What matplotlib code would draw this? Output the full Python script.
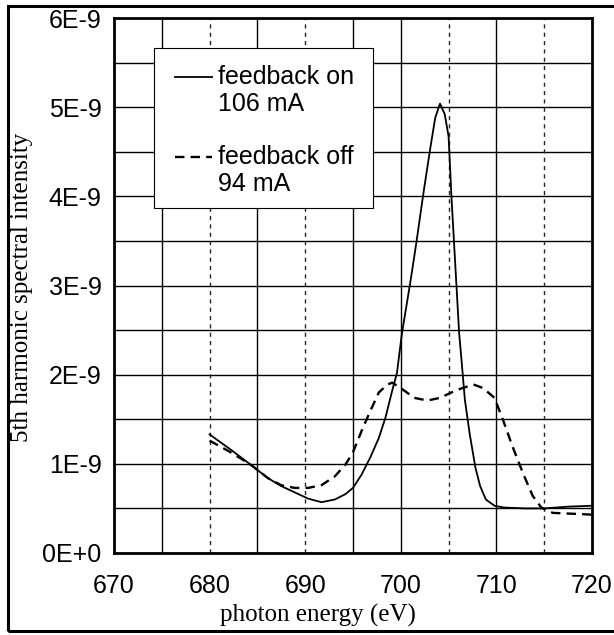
import matplotlib
matplotlib.use("Agg")
import matplotlib.pyplot as plt
from matplotlib.patches import Rectangle
from matplotlib.lines import Line2D
from matplotlib.ticker import MultipleLocator

# photon energy (eV) and 5th harmonic intensity (units of 1E-9)
energy_on = [680.0, 682.2, 684.3, 686.1, 687.5, 688.9, 690.3, 691.7, 693.1, 694.2,
             695.0, 695.9, 696.8, 697.7, 698.4, 699.1, 699.6, 700.1, 701.0, 701.6,
             702.4, 703.1, 703.6, 704.1, 704.6, 705.0, 705.3, 705.7, 706.1, 706.4,
             706.7, 707.2, 707.8, 708.3, 708.9, 709.8, 710.8, 713.0, 715.0, 717.5, 720.0]
intensity_on = [1.33, 1.16, 0.99, 0.84, 0.75, 0.68, 0.61, 0.57, 0.60, 0.66,
                0.73, 0.88, 1.07, 1.29, 1.52, 1.82, 2.02, 2.45, 3.04, 3.46,
                4.06, 4.55, 4.88, 5.04, 4.92, 4.67, 3.99, 3.23, 2.47, 2.10,
                1.72, 1.34, 0.96, 0.75, 0.60, 0.53, 0.51, 0.50, 0.50, 0.52, 0.53]

energy_off = [680.0, 682.2, 684.3, 686.1, 687.5, 688.9, 690.3, 691.7, 693.1, 694.2,
              695.0, 695.9, 696.8, 697.7, 698.6, 699.1, 700.0, 701.4, 702.8, 704.1,
              705.9, 707.6, 708.6, 709.8, 710.7, 711.7, 712.8, 713.8, 714.7, 715.9,
              718.0, 720.0]
intensity_off = [1.26, 1.13, 0.99, 0.84, 0.76, 0.73, 0.73, 0.76, 0.86, 0.99,
                 1.13, 1.37, 1.59, 1.80, 1.89, 1.91, 1.85, 1.74, 1.71, 1.74,
                 1.83, 1.89, 1.85, 1.74, 1.49, 1.19, 0.89, 0.64, 0.51, 0.45,
                 0.44, 0.43]

xticks = [670, 680, 690, 700, 710, 720]
yticks = [0, 1, 2, 3, 4, 5, 6]
ytick_labels = ['0E+0', '1E-9', '2E-9', '3E-9', '4E-9', '5E-9', '6E-9']
labels = ['feedback on\n106 mA', 'feedback off\n94 mA']

SANS = 'Liberation Sans'
SERIF = 'Liberation Serif'

fig = plt.figure(figsize=(6.14, 6.35), dpi=100)
ax = fig.add_axes([114/614, 1 - 553/635, 478/614, 535/635])

ax.set_xlim(670, 720)
ax.set_ylim(0, 6e-9)

# grid (scanned original: some vertical lines come out broken)
broken = {680, 690, 705, 715}
for e in range(675, 720, 5):
    if e in broken:
        ax.axvline(e, color='0.15', lw=1.0, ls=(0, (3, 3)), zorder=1)
    else:
        ax.axvline(e, color='black', lw=1.0, zorder=1)
ax.yaxis.set_minor_locator(MultipleLocator(0.5e-9))
ax.grid(axis='y', which='both', color='black', lw=1.0, zorder=1)
ax.set_axisbelow(True)

ax.plot(energy_on, [v * 1e-9 for v in intensity_on], color='black', lw=1.3, zorder=3)
ax.plot(energy_off, [v * 1e-9 for v in intensity_off], color='black', lw=1.7,
        dashes=(4, 2.6), zorder=3)

ax.set_xticks(xticks)
ax.set_xticklabels([str(t) for t in xticks], fontfamily=SANS, fontsize=18)
ax.set_yticks([t * 1e-9 for t in yticks])
ax.set_yticklabels(ytick_labels, fontfamily=SANS, fontsize=18)
ax.tick_params(axis='both', which='both', length=0)
ax.tick_params(axis='x', pad=15)
ax.tick_params(axis='y', pad=9)
for s in ax.spines.values():
    s.set_linewidth(2.0)

fig.text(318/614, 1 - 615/635, 'photon energy (eV)', family=SERIF, fontsize=18,
         ha='center', va='center')
fig.text(22/614, 1 - 287/635, '5th harmonic spectral intensity', family=SERIF,
         fontsize=18, ha='center', va='center', rotation=90)

# legend box
ax.add_patch(Rectangle((0.0837, 0.645), 0.458, 0.299, transform=ax.transAxes,
                       facecolor='white', edgecolor='black', lw=0.8, zorder=4))
ax.add_line(Line2D([0.128, 0.205], [0.890, 0.890], transform=ax.transAxes,
                   color='black', lw=1.3, zorder=5))
ax.add_line(Line2D([0.128, 0.205], [0.740, 0.740], transform=ax.transAxes,
                   color='black', lw=1.7, dashes=(4, 2.6), zorder=5))
ax.text(0.218, 0.890, labels[0].split('\n')[0], transform=ax.transAxes,
        family=SANS, fontsize=18, va='center', zorder=5)
ax.text(0.218, 0.839, labels[0].split('\n')[1], transform=ax.transAxes,
        family=SANS, fontsize=18, va='center', zorder=5)
ax.text(0.218, 0.740, labels[1].split('\n')[0], transform=ax.transAxes,
        family=SANS, fontsize=18, va='center', zorder=5)
ax.text(0.218, 0.690, labels[1].split('\n')[1], transform=ax.transAxes,
        family=SANS, fontsize=18, va='center', zorder=5)

# outer frame of the figure
fig.patches.append(Rectangle((8/614, 1 - 631/635), 612/614, 625/635,
                             transform=fig.transFigure, fill=False,
                             edgecolor='black', lw=2.2))

fig.savefig('out.png', dpi=100)
